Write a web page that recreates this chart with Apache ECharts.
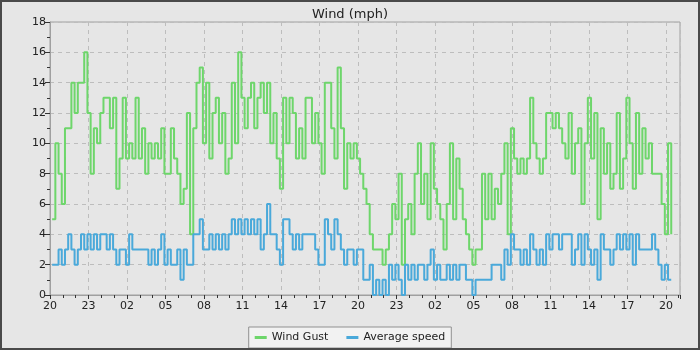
<!DOCTYPE html>
<html>
<head>
<meta charset="utf-8">
<script src="https://cdn.jsdelivr.net/npm/echarts@6/dist/echarts.min.js"></script>
<style>
  html, body { margin: 0; padding: 0; background: #e6e6e6; }
  #frame { width: 696px; height: 346px; border: 2px solid #4a4a4a; background: #e6e6e6; }
  #chart { width: 696px; height: 346px; }
</style>
</head>
<body>
<div id="frame"><div id="chart"></div></div>
<script>
// readings every 15 minutes, first one at 20:10
const startHour = 20;
const firstOffset = 10 / 60;
const stepMinutes = 15;

const gust = [
  5, 10, 8, 6, 11, 11, 14, 12, 14, 14, 16, 12, 8, 11, 10, 12, 13, 13, 11, 13,
  7, 9, 13, 9, 10, 9, 13, 9, 11, 8, 10, 9, 10, 9, 11, 8, 8, 11, 9, 8,
  6, 7, 12, 4, 11, 14, 15, 10, 14, 9, 12, 13, 10, 12, 8, 9, 14, 10, 16, 13,
  11, 13, 14, 11, 13, 14, 12, 14, 10, 12, 9, 7, 13, 10, 13, 12, 9, 11, 9, 13,
  13, 10, 12, 10, 8, 14, 14, 11, 9, 15, 11, 7, 10, 9, 10, 9, 8, 7, 6, 4,
  3, 3, 3, 2, 3, 4, 6, 5, 8, 2, 5, 6, 4, 8, 10, 6, 8, 5, 10, 7,
  6, 5, 3, 6, 10, 5, 9, 7, 5, 4, 3, 2, 3, 3, 8, 5, 8, 5, 7, 6,
  8, 10, 4, 11, 9, 8, 9, 8, 9, 13, 10, 9, 8, 9, 12, 12, 11, 12, 11, 10,
  9, 12, 8, 10, 11, 6, 10, 13, 9, 12, 5, 11, 8, 10, 7, 8, 12, 7, 9, 13,
  10, 7, 12, 8, 11, 9, 10, 8, 8, 8, 6, 4, 10, 4
];

const avgSpeed = [
  2, 2, 3, 2, 3, 4, 3, 2, 3, 4, 3, 4, 3, 4, 3, 4, 4, 3, 4, 3,
  2, 3, 3, 2, 4, 3, 3, 3, 3, 3, 2, 3, 2, 3, 4, 2, 3, 2, 2, 3,
  1, 3, 2, 2, 4, 4, 5, 3, 3, 4, 3, 4, 3, 4, 3, 4, 5, 4, 5, 4,
  5, 4, 5, 4, 5, 3, 4, 6, 4, 4, 3, 2, 5, 5, 4, 3, 4, 3, 4, 4,
  4, 4, 3, 2, 2, 5, 4, 3, 5, 4, 3, 2, 3, 3, 2, 3, 3, 1, 1, 2,
  0, 1, 0, 1, 0, 2, 1, 2, 1, 0, 2, 1, 2, 1, 2, 2, 1, 2, 3, 1,
  2, 1, 1, 2, 1, 2, 1, 2, 2, 1, 1, 0, 1, 1, 1, 1, 1, 2, 2, 2,
  1, 3, 2, 4, 3, 3, 2, 3, 2, 4, 3, 2, 3, 2, 4, 3, 4, 4, 3, 4,
  4, 4, 2, 3, 4, 2, 4, 3, 2, 3, 1, 4, 3, 3, 2, 3, 4, 3, 4, 3,
  4, 2, 4, 3, 3, 3, 3, 4, 3, 2, 1, 2, 1, 1
];

const seriesNames = ['Wind Gust', 'Average speed'];
const colors = ['#6ed66b', '#4aa9da'];

const toPoints = (arr) => arr.map((v, i) => [firstOffset + i * stepMinutes / 60, v]);
const hourLabel = (v) => {
  const h = Math.round(startHour + v) % 24;
  return (h < 10 ? '0' : '') + h;
};

const chart = echarts.init(document.getElementById('chart'));
const font = 'DejaVu Sans';

chart.setOption({
  animation: false,
  backgroundColor: '#e6e6e6',
  textStyle: { fontFamily: font },
  title: {
    text: 'Wind (mph)',
    left: 'center',
    top: 1,
    textStyle: { fontFamily: font, fontSize: 13, fontWeight: 'normal', color: '#222' }
  },
  grid: {
    left: 48, right: 18, top: 20, bottom: 53,
    show: true, borderColor: '#a0a0a0', borderWidth: 1, backgroundColor: '#e6e6e6'
  },
  legend: {
    bottom: 0,
    left: 'center',
    data: seriesNames,
    icon: 'rect',
    itemWidth: 12,
    itemHeight: 3,
    itemGap: 18,
    padding: [5, 6, 5, 6],
    backgroundColor: '#f2f2f2',
    borderColor: '#909090',
    borderWidth: 1,
    textStyle: { fontFamily: font, fontSize: 11, color: '#222' }
  },
  xAxis: {
    type: 'value',
    min: 0,
    max: 49.1,
    interval: 3,
    axisLine: { lineStyle: { color: '#a0a0a0' } },
    axisTick: { length: 4, lineStyle: { color: '#333' } },
    minorTick: { show: true, splitNumber: 3, length: 3, lineStyle: { color: '#333' } },
    axisLabel: {
      formatter: hourLabel, showMaxLabel: false, color: '#222', fontSize: 11, margin: 6, fontFamily: font
    },
    splitLine: { lineStyle: { color: '#bdbdbd', type: [4, 4] } }
  },
  yAxis: {
    type: 'value',
    min: 0,
    max: 18,
    interval: 2,
    axisLine: { show: true, lineStyle: { color: '#a0a0a0' } },
    axisTick: { show: true, length: 5, lineStyle: { color: '#333' } },
    minorTick: { show: true, splitNumber: 2, length: 3, lineStyle: { color: '#333' } },
    axisLabel: { color: '#222', fontSize: 11, margin: 4, fontFamily: font },
    splitLine: { lineStyle: { color: '#bdbdbd', type: [4, 4] } }
  },
  series: [
    {
      name: seriesNames[0], type: 'line', step: 'end', showSymbol: false,
      data: toPoints(gust), color: colors[0], lineStyle: { width: 2 }
    },
    {
      name: seriesNames[1], type: 'line', step: 'end', showSymbol: false,
      data: toPoints(avgSpeed), color: colors[1], lineStyle: { width: 2 }
    }
  ]
});

window.onresize = function () {
  chart.resize();
};
</script>
</body>
</html>
